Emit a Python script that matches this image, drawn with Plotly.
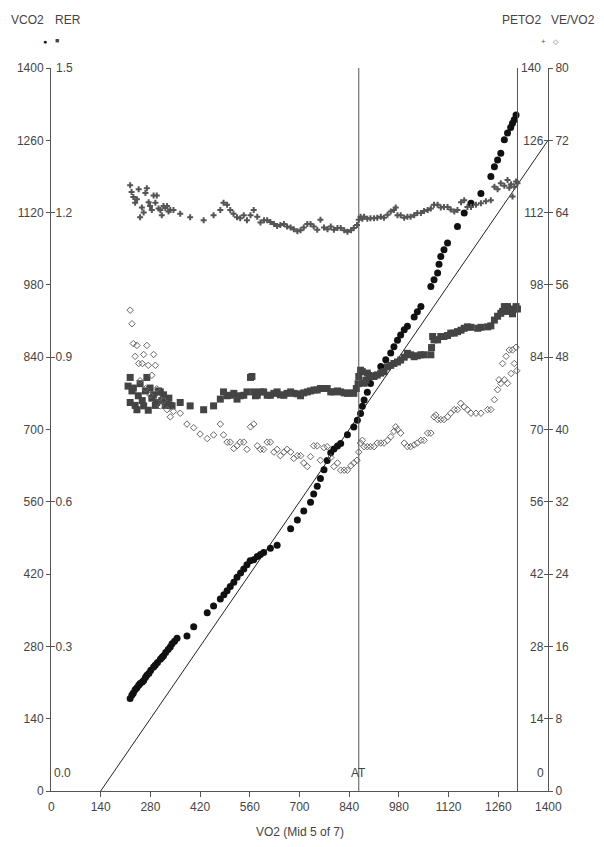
import plotly.graph_objects as go

# ---------------- data ----------------
vco2_vo2 = [223, 228, 232, 237, 242, 247, 251, 257, 261, 266, 270, 276, 281, 289, 294, 300, 308, 313,
            317, 323, 330, 336, 341, 348, 355, 383, 402, 440, 458, 477, 487, 496, 505, 515, 524, 534,
            543, 552, 561, 571, 581, 590, 599, 618, 637, 675, 694, 712, 731, 740, 750, 759, 769, 778,
            788, 797, 807, 816, 835, 853, 863, 872, 877, 882, 891, 900, 914, 929, 943, 957, 966, 976,
            985, 995, 1004, 1023, 1032, 1042, 1070, 1079, 1089, 1093, 1098, 1107, 1117, 1145, 1164,
            1183, 1211, 1239, 1249, 1258, 1267, 1277, 1286, 1295, 1300, 1305, 1310]
vco2_val = [179, 186, 190, 196, 200, 205, 208, 211, 214, 220, 224, 228, 234, 240, 244, 249, 255, 259,
            262, 268, 274, 279, 285, 290, 296, 300, 318, 345, 358, 372, 380, 388, 396, 404, 414, 422,
            430, 438, 446, 448, 454, 458, 462, 470, 476, 508, 525, 542, 559, 575, 590, 605, 622, 640,
            655, 662, 668, 673, 690, 705, 718, 731, 745, 757, 772, 789, 805, 822, 835, 848, 860, 873,
            883, 893, 900, 918, 928, 938, 977, 990, 1003, 1020, 1035, 1048, 1061, 1093, 1119,
            1138, 1157, 1190, 1209, 1222, 1235, 1261, 1274, 1285, 1293, 1300, 1309]

rer_vo2 = [217, 223, 223, 228, 232, 237, 242, 246, 251, 257, 261, 266, 270, 274, 279, 284, 289, 294,
           298, 303, 308, 312, 317, 322, 327, 332, 336, 341, 364, 392, 430, 458, 477, 486, 496, 505,
           515, 524, 533, 543, 552, 562, 566, 571, 576, 581, 590, 599, 609, 618, 628, 637, 646, 656,
           665, 675, 684, 694, 703, 712, 722, 731, 741, 750, 759, 769, 778, 788, 797, 807, 816, 826,
           835, 845, 853, 860, 865, 867, 872, 877, 882, 887, 891, 896, 900, 910, 919, 929, 938, 948,
           957, 966, 976, 985, 995, 1004, 1013, 1023, 1032, 1042, 1051, 1070, 1072, 1075, 1079, 1089,
           1098, 1107, 1117, 1126, 1136, 1145, 1155, 1164, 1173, 1183, 1202, 1211, 1230, 1239, 1249,
           1258, 1267, 1272, 1277, 1282, 1286, 1291, 1296, 1300, 1305, 1310, 1314]
rer_val = [0.840, 0.858, 0.806, 0.830, 0.836, 0.800, 0.791, 0.820, 0.845, 0.810, 0.799, 0.830, 0.858,
           0.790, 0.836, 0.815, 0.822, 0.800, 0.806, 0.830, 0.828, 0.810, 0.822, 0.800, 0.806, 0.815,
           0.800, 0.799, 0.806, 0.799, 0.791, 0.799, 0.813, 0.828, 0.820, 0.821, 0.825, 0.813, 0.820,
           0.821, 0.828, 0.858, 0.860, 0.828, 0.820, 0.821, 0.828, 0.828, 0.821, 0.821, 0.825, 0.828,
           0.822, 0.821, 0.825, 0.828, 0.825, 0.824, 0.820, 0.826, 0.828, 0.830, 0.832, 0.832, 0.835,
           0.835, 0.835, 0.828, 0.828, 0.830, 0.828, 0.826, 0.825, 0.826, 0.825, 0.835, 0.845, 0.860,
           0.873, 0.870, 0.846, 0.852, 0.867, 0.862, 0.860, 0.860, 0.863, 0.867, 0.870, 0.880, 0.883,
           0.887, 0.890, 0.894, 0.900, 0.908, 0.905, 0.901, 0.903, 0.905, 0.905, 0.905, 0.920, 0.943,
           0.936, 0.936, 0.943, 0.943, 0.945, 0.950, 0.950, 0.953, 0.956, 0.960, 0.963, 0.962, 0.960,
           0.962, 0.963, 0.965, 0.977, 0.985, 0.991, 0.995, 1.005, 1.000, 1.005, 0.995, 0.998, 0.990,
           1.000, 1.005, 1.000]

peto2_vo2 = [223, 227, 232, 237, 242, 247, 251, 256, 261, 266, 270, 275, 279, 284, 289, 294, 298, 303,
             308, 312, 317, 322, 327, 331, 336, 345, 364, 392, 430, 458, 477, 486, 496, 505, 514, 524,
             533, 543, 552, 562, 571, 581, 590, 600, 609, 618, 628, 637, 646, 656, 665, 675, 684, 694,
             703, 712, 722, 731, 740, 750, 759, 769, 779, 788, 797, 807, 816, 826, 835, 845, 853, 862,
             867, 872, 877, 882, 891, 900, 910, 919, 929, 938, 948, 957, 966, 971, 976, 985, 995, 1004,
             1013, 1023, 1032, 1042, 1051, 1061, 1070, 1079, 1089, 1098, 1107, 1117, 1126, 1136, 1145,
             1155, 1164, 1173, 1183, 1197, 1211, 1225, 1239, 1249, 1258, 1267, 1277, 1286, 1291, 1296,
             1300, 1305, 1310, 1314]
peto2_val = [117.3, 116.0, 115.0, 113.9, 114.6, 116.5, 111.1, 113.0, 112.0, 115.8, 116.7, 114.0, 113.3,
             112.5, 115.3, 113.9, 115.3, 112.8, 112.5, 111.5, 113.3, 112.9, 113.3, 112.2, 112.5, 112.5,
             111.8, 111.1, 110.5, 111.5, 112.5, 113.9, 113.5, 112.5, 111.8, 111.1, 110.9, 111.5, 110.5,
             111.5, 112.5, 111.2, 110.1, 110.5, 110.5, 110.2, 109.8, 109.4, 109.6, 109.8, 109.3, 109.1,
             108.8, 108.4, 108.6, 109.1, 109.8, 109.8, 109.3, 108.7, 110.6, 109.1, 108.8, 109.3, 108.7,
             109.0, 109.0, 108.6, 108.3, 108.6, 109.0, 109.6, 110.6, 111.2, 110.8, 111.2, 110.8, 110.9,
             110.9, 111.0, 111.2, 111.0, 111.6, 112.2, 112.5, 113.0, 111.5, 111.5, 111.0, 111.2, 111.2,
             111.5, 111.9, 111.9, 112.3, 112.5, 112.8, 113.5, 113.5, 113.0, 113.1, 113.1, 112.6, 112.2,
             112.5, 114.0, 114.4, 113.1, 113.1, 113.5, 113.8, 114.2, 114.4, 117.0, 116.5, 117.7, 117.2,
             118.3, 116.8, 117.5, 115.1, 117.0, 118.0, 117.7]

vevo2_vo2 = [223, 228, 232, 237, 242, 247, 251, 257, 261, 266, 270, 274, 279, 284, 289, 294, 298, 303,
             308, 317, 327, 336, 345, 364, 383, 402, 420, 440, 458, 477, 486, 496, 505, 515, 524, 533,
             543, 552, 562, 571, 581, 590, 599, 609, 618, 628, 637, 646, 656, 665, 675, 684, 694, 703,
             712, 722, 731, 740, 750, 759, 769, 778, 788, 797, 807, 816, 826, 835, 845, 853, 862, 867,
             872, 877, 882, 891, 900, 910, 919, 929, 938, 948, 957, 966, 971, 976, 985, 995, 1004, 1013,
             1023, 1032, 1042, 1051, 1061, 1070, 1079, 1084, 1089, 1098, 1107, 1117, 1126, 1136, 1145,
             1154, 1164, 1173, 1183, 1197, 1211, 1230, 1239, 1249, 1258, 1262, 1267, 1272, 1277, 1282,
             1286, 1291, 1296, 1300, 1305, 1310, 1312]
vevo2_val = [53.2, 51.7, 49.5, 48.1, 49.3, 47.3, 45.4, 47.3, 48.3, 44.5, 49.3, 47.1, 43.8, 46.0, 48.3,
             47.1, 44.5, 43.5, 42.6, 43.2, 42.2, 41.4, 42.0, 41.8, 40.6, 40.2, 39.5, 39.0, 39.4, 40.6,
             39.4, 38.6, 38.6, 37.9, 38.2, 38.6, 38.6, 37.8, 40.3, 40.6, 38.2, 37.8, 37.8, 38.6, 38.6,
             37.5, 37.8, 37.1, 37.5, 37.8, 37.5, 36.8, 37.1, 37.1, 36.3, 35.9, 37.0, 38.2, 38.2, 36.6,
             38.0, 38.1, 36.9, 35.9, 36.3, 35.5, 35.5, 35.5, 36.0, 36.3, 36.6, 37.5, 38.5, 38.8, 38.1,
             38.1, 38.1, 38.1, 38.5, 38.5, 38.5, 38.8, 39.2, 39.8, 40.3, 40.0, 39.6, 38.5, 38.1, 38.1,
             38.3, 38.5, 38.8, 38.8, 39.6, 39.6, 41.4, 41.6, 41.1, 41.1, 41.1, 41.4, 41.8, 42.2, 42.2,
             42.9, 42.5, 42.2, 41.8, 41.8, 41.8, 42.2, 42.2, 43.3, 44.4, 45.5, 45.1, 47.3, 45.5, 48.1,
             45.1, 48.8, 46.2, 48.8, 47.3, 49.1, 46.5]

ref_line_vo2 = [140, 1400]
ref_line_vco2 = [0, 1260]
at_vo2 = 867
max_vo2 = 1314

x_ticks = [0, 140, 280, 420, 560, 700, 840, 980, 1120, 1260, 1400]
vco2_ticks = [0, 140, 280, 420, 560, 700, 840, 980, 1120, 1260, 1400]
rer_ticks = [0.3, 0.6, 0.9, 1.2, 1.5]
peto2_ticks = [14, 28, 42, 56, 70, 84, 98, 112, 126, 140]
vevo2_ticks = [0, 8, 16, 24, 32, 40, 48, 56, 64, 72, 80]

# ---------------- figure ----------------
FONT = "Liberation Sans, Arial, sans-serif"
TXT = "#444444"
AX = "#555555"

fig = go.Figure()

fig.add_trace(go.Scatter(x=ref_line_vo2, y=ref_line_vco2, mode="lines",
                         line=dict(color="#222222", width=1), showlegend=False, hoverinfo="skip"))
fig.add_trace(go.Scatter(x=peto2_vo2, y=peto2_val, yaxis="y3", mode="markers",
                         marker=dict(symbol="cross", size=5, color="#555555"), showlegend=False))
fig.add_trace(go.Scatter(x=vevo2_vo2, y=vevo2_val, yaxis="y4", mode="markers",
                         marker=dict(symbol="diamond-open", size=5, color="#666666", line=dict(width=1)),
                         showlegend=False))
fig.add_trace(go.Scatter(x=rer_vo2, y=rer_val, yaxis="y2", mode="markers",
                         marker=dict(symbol="square", size=7, color="#444444"), showlegend=False))
fig.add_trace(go.Scatter(x=vco2_vo2, y=vco2_val, mode="markers",
                         marker=dict(symbol="circle", size=7, color="#111111"), showlegend=False))

# vertical markers (AT and end)
for xv in (at_vo2, max_vo2):
    fig.add_shape(type="line", x0=xv, x1=xv, y0=0, y1=1, xref="x", yref="paper",
                  line=dict(color="#555555", width=1))

# page body has an 8px margin: shrink the figure so the plot lands where the reference has it
fig.update_layout(
    width=596, height=839,
    margin=dict(l=43, r=56, t=60, b=56, autoexpand=False),
    paper_bgcolor="white", plot_bgcolor="white",
    font=dict(family=FONT, size=12, color=TXT),
    showlegend=False,
    xaxis=dict(range=[0, 1400], tickvals=x_ticks, ticks="outside", ticklen=5, tickcolor=AX,
               showline=True, linecolor=AX, linewidth=1, showgrid=False, zeroline=False,
               tickfont=dict(size=12, color=TXT)),
    yaxis=dict(range=[0, 1400], tickvals=vco2_ticks, ticks="outside", ticklen=4, tickcolor=AX,
               showline=True, linecolor=AX, linewidth=1, showgrid=False, zeroline=False,
               tickfont=dict(size=12, color=TXT)),
    yaxis2=dict(range=[0, 1.5], overlaying="y", side="left", anchor="x", tickvals=rer_ticks,
                ticktext=[f"{v:.1f}" for v in rer_ticks], ticks="inside", ticklen=4, tickcolor=AX,
                ticklabelposition="inside", showline=False, showgrid=False, zeroline=False,
                tickfont=dict(size=12, color=TXT)),
    yaxis3=dict(range=[0, 140], overlaying="y", side="right", anchor="x", tickvals=peto2_ticks,
                ticks="inside", ticklen=4, tickcolor=AX, ticklabelposition="inside",
                showline=False, showgrid=False, zeroline=False, tickfont=dict(size=12, color=TXT)),
    yaxis4=dict(range=[0, 80], overlaying="y", side="right", anchor="x", tickvals=vevo2_ticks,
                ticks="outside", ticklen=4, tickcolor=AX, showline=True, linecolor=AX, linewidth=1,
                showgrid=False, zeroline=False, tickfont=dict(size=12, color=TXT)),
)

S12 = dict(size=12, color=TXT)
ann = []
ann.append(dict(text="VO2 (Mid 5 of 7)", x=0.5, xref="paper", y=0, yref="paper",
                yanchor="top", yshift=-32, showarrow=False, font=S12))
ann.append(dict(text="AT", x=at_vo2, xref="x", y=35, yref="y", showarrow=False, font=S12))
ann.append(dict(text="0.0", x=0, xref="x", y=35, yref="y", xanchor="left", xshift=1,
                showarrow=False, font=S12))
ann.append(dict(text="0", x=1400, xref="x", y=35, yref="y", xanchor="right", xshift=-2,
                showarrow=False, font=S12))
ann.append(dict(text="0", x=0, xref="x", y=0, yref="y", yanchor="top", yshift=-7,
                showarrow=False, font=S12))
ann.append(dict(text="1400", x=1400, xref="x", y=0, yref="y", yanchor="top", yshift=-7,
                showarrow=False, font=S12))
ann.append(dict(text="1.5", x=0, xref="x", y=1400, yref="y", xanchor="left", xshift=3,
                yanchor="middle", showarrow=False, font=S12))
ann.append(dict(text="140", x=1400, xref="x", y=1400, yref="y", xanchor="right", xshift=-5,
                yanchor="middle", showarrow=False, font=S12))
# header labels
ann.append(dict(text="VCO2", x=0, xref="paper", xanchor="left", xshift=-42, y=1, yref="paper",
                yanchor="middle", yshift=48, showarrow=False, font=S12))
ann.append(dict(text="RER", x=0, xref="paper", xanchor="left", xshift=2, y=1, yref="paper",
                yanchor="middle", yshift=48, showarrow=False, font=S12))
ann.append(dict(text="●", x=0, xref="paper", xanchor="center", xshift=-6, y=1, yref="paper",
                yanchor="middle", yshift=27, showarrow=False, font=dict(size=7, color="#111111")))
ann.append(dict(text="■", x=0, xref="paper", xanchor="center", xshift=6, y=1, yref="paper",
                yanchor="middle", yshift=28, showarrow=False, font=dict(size=7, color="#444444")))
ann.append(dict(text="PETO2", x=1, xref="paper", xanchor="right", xshift=-5, y=1, yref="paper",
                yanchor="middle", yshift=48, showarrow=False, font=S12))
ann.append(dict(text="VE/VO2", x=1, xref="paper", xanchor="left", xshift=1, y=1, yref="paper",
                yanchor="middle", yshift=48, showarrow=False, font=S12))
ann.append(dict(text="+", x=1, xref="paper", xanchor="center", xshift=-5, y=1, yref="paper",
                yanchor="middle", yshift=27, showarrow=False, font=dict(size=8, color="#555555")))
ann.append(dict(text="◇", x=1, xref="paper", xanchor="center", xshift=8, y=1, yref="paper",
                yanchor="middle", yshift=27, showarrow=False, font=dict(size=7, color="#666666")))
fig.update_layout(annotations=ann)

fig.write_html("out.html")
